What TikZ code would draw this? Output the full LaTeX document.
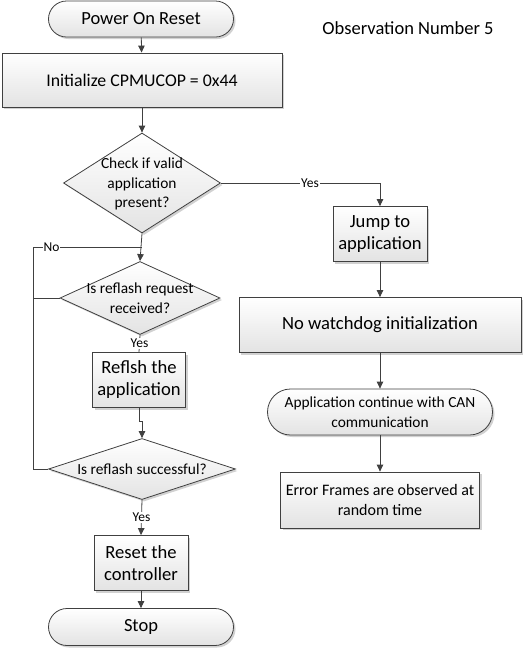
\documentclass[tikz,border=0pt]{standalone}
\usepackage{fontspec}
\setmainfont{Carlito}
\usetikzlibrary{arrows.meta,shadows,shapes.geometric}
\definecolor{linegray}{HTML}{404040}
\begin{document}
\begin{tikzpicture}[x=1pt,y=-1pt,
  every node/.style={inner sep=0pt, text=black},
  shade box/.style={draw=linegray, line width=0.8pt, top color=white, bottom color=black!11,
    drop shadow={shadow xshift=2pt, shadow yshift=-2pt, fill=black!40, opacity=0.45}},
  procbox/.style={shade box, rectangle, align=center},
  termbox/.style={shade box, rectangle, align=center},
  decision/.style={draw=linegray, line width=0.8pt, diamond, top color=white, bottom color=black!11,
    drop shadow={shadow xshift=2pt, shadow yshift=-2pt, fill=black!40, opacity=0.45}},
  bigtxt/.style={font=\fontsize{18.6}{22}\selectfont},
  midtxt/.style={font=\fontsize{18.5}{22}\selectfont},
  smalltxt/.style={font=\fontsize{15.4}{19.8}\selectfont, align=center},
  lbl/.style={font=\fontsize{13.5}{14}\selectfont, fill=white, inner sep=1pt},
  conn/.style={draw=linegray, line width=0.8pt},
  arr/.style={conn, -{Triangle[length=7pt,width=6.5pt]}}
]
\useasboundingbox (0,0) rectangle (526,649);

% left column
\node[termbox, midtxt, minimum width=185pt, minimum height=36pt, rounded corners=18pt] (por) at (141,19) {Power On Reset};
\node[procbox, bigtxt, font=\fontsize{17.8}{22}\selectfont, minimum width=280pt, minimum height=54pt] (init) at (142,80) {Initialize CPMUCOP = 0x44};
\node[decision, minimum width=157pt, minimum height=100pt] (d1) at (142,183) {};
\node[smalltxt] (d1t) at (142,184) {Check if valid\\application\\present?};
\node[decision, minimum width=160pt, minimum height=73pt] (d2) at (140,298) {};
\node[smalltxt] (d2t) at (140,298) {Is reflash request\\received?};
\node[procbox, bigtxt, minimum width=93pt, minimum height=55pt] (refl) at (139,380) {Reflsh the\\application};
\node[decision, minimum width=187pt, minimum height=61pt] (d3) at (142,469) {};
\node[smalltxt] (d3t) at (142,469) {Is reflash successful?};
\node[procbox, bigtxt, minimum width=94pt, minimum height=55pt] (reset) at (141,563) {Reset the\\controller};
\node[termbox, midtxt, minimum width=185pt, minimum height=37pt, rounded corners=18.5pt] (stop) at (141,627) {Stop};

% right column
\node[midtxt] (obs) at (408,28) {Observation Number 5};
\node[procbox, bigtxt, minimum width=94pt, minimum height=55pt] (jump) at (380,234) {Jump to\\application};
\node[procbox, bigtxt, minimum width=282pt, minimum height=55pt] (nowd) at (380,325) {No watchdog initialization};
\node[termbox, smalltxt, minimum width=225pt, minimum height=46pt, rounded corners=23pt] (app) at (380,412) {Application continue with CAN\\communication};
\node[procbox, smalltxt, font=\fontsize{16}{19.8}\selectfont, minimum width=199pt, minimum height=56pt] (err) at (380,500) {Error Frames are observed at\\random time};

% helper coordinates
\coordinate (loopL) at (33,247);
\coordinate (loopB) at (33,469);
\coordinate (jn) at (142,247);
\coordinate (jog) at (139,421);

% connectors
\draw[arr] (por) -- (init);
\draw[arr] (init) -- (d1);
\draw[arr] (d1.east) -| node[lbl, pos=0.28] {Yes} (jump.north);
\draw[arr] (jump) -- (nowd);
\draw[arr] (nowd) -- (app);
\draw[arr] (app) -- (err);
\draw[arr] (d1.south) -- (d2.north);
\draw[conn] (d3.west) -- (loopB) -- (loopL) -- node[lbl, pos=0.17] {No} (jn);
\draw[conn] (d2.west) -- (d2.west -| loopL);
\draw[conn] (d2.south) -- node[lbl, pos=0.5] {Yes} (refl.north);
\draw[arr] (refl.south) -- (jog) -| (d3.north);
\draw[arr] (d3.south) -- node[lbl, pos=0.5] {Yes} (reset.north);
\draw[arr] (reset) -- (stop);
\end{tikzpicture}
\end{document}
